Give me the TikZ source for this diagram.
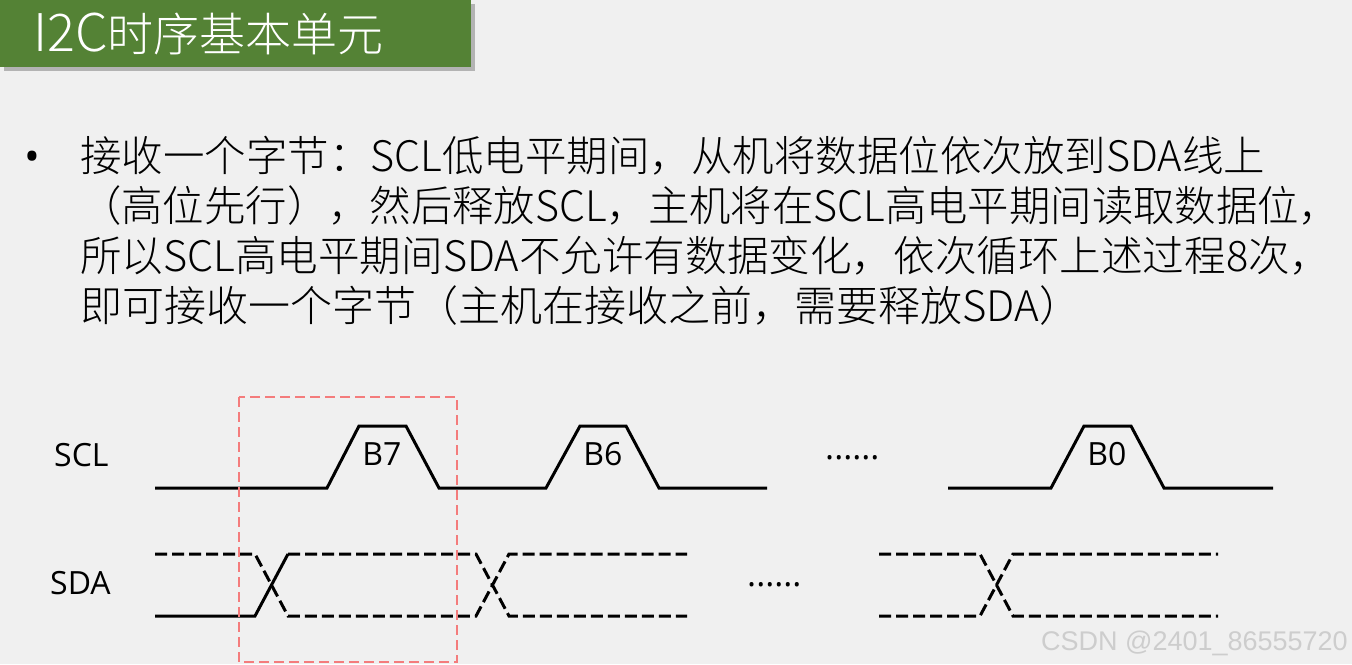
\documentclass[tikz,border=0pt]{standalone}
\usepackage{fontspec}
\setmainfont{Noto Sans CJK SC Light}
\newfontfamily\osans{Open Sans}
\newfontfamily\lsans{Liberation Sans}
\usetikzlibrary{shadows}
\definecolor{bg}{HTML}{F0F0F0}
\definecolor{titlegreen}{HTML}{548235}
\definecolor{boxred}{HTML}{F47C7C}
\definecolor{wmgray}{HTML}{CDCDCD}
\begin{document}
\begin{tikzpicture}[x=1pt,y=-1pt,
  bodytext/.style={anchor=base west,inner sep=0pt,font=\fontsize{42}{50}\selectfont},
  sig/.style={line width=3pt},
  dsig/.style={line width=3pt,dash pattern=on 12pt off 5pt},
  siglabel/.style={anchor=base west,inner sep=0pt,font=\osans\fontsize{32}{36}\selectfont},
  bitlabel/.style={anchor=base,inner sep=0pt,font=\osans\fontsize{32}{36}\selectfont},
  dotlabel/.style={anchor=base west,inner sep=0pt,font=\osans\fontsize{34}{36}\selectfont},
  ]
\fill[bg] (0,0) rectangle (1352,664);
\useasboundingbox (0,0) rectangle (1352,664);
% title
\path[fill=titlegreen, drop shadow={shadow xshift=4pt,shadow yshift=-4pt,fill=black,opacity=0.25}] (0,0) rectangle (471,67);
\node[anchor=base west,inner sep=0pt,text=white] (title) at (33,51)
  {\fontsize{52}{60}\selectfont I2C\fontsize{46}{50}\selectfont 时序基本单元};
% bullet text
\node[anchor=base,inner sep=0pt,font=\osans\fontsize{42}{50}\selectfont] (bullet) at (32,171) {•};
\node[bodytext,xscale=0.988] (l1) at (80,171) {接收一个字节：SCL低电平期间，从机将数据位依次放到SDA线上};
\node[bodytext,xscale=0.985] (l2) at (80,221) {（高位先行），然后释放SCL，主机将在SCL高电平期间读取数据位，};
\node[bodytext,xscale=0.99] (l3) at (80,271) {所以SCL高电平期间SDA不允许有数据变化，依次循环上述过程8次，};
\node[bodytext] (l4) at (80,321) {即可接收一个字节（主机在接收之前，需要释放SDA）};
% labels
\node[siglabel] (scl) at (54,466) {SCL};
\node[siglabel] (sda) at (50,594) {SDA};
\node[bitlabel] (b7) at (382,465) {B7};
\node[bitlabel] (b6) at (603,465) {B6};
\node[bitlabel] (b0) at (1107,465) {B0};
\node[dotlabel] (dscl) at (825,459) {......};
\node[dotlabel] (dsda) at (747,586) {......};
% SCL waveform
\draw[sig] (155,488) -- (327,488) -- (359,426) -- (406,426) -- (439,488) -- (546,488)
  -- (580,426) -- (626,426) -- (659,488) -- (767,488);
\draw[sig] (948,488) -- (1051,488) -- (1084,426) -- (1131,426) -- (1164,488) -- (1273,488);
% SDA waveform
\draw[sig] (155,616) -- (255,616) -- (288,554);
\draw[dsig] (155,554) -- (255,554) -- (288,616) -- (476,616) -- (509,554) -- (687,554);
\draw[dsig] (288,554) -- (476,554) -- (509,616) -- (687,616);
\draw[dsig] (879,554) -- (980,554) -- (1013,616) -- (1218,616);
\draw[dsig] (879,616) -- (980,616) -- (1013,554) -- (1218,554);
% red box
\draw[boxred,line width=2pt,dash pattern=on 10pt off 5pt] (239,397) rectangle (457,662);
% watermark
\node[anchor=base east,inner sep=0pt,text=wmgray,font=\lsans\fontsize{27}{30}\selectfont] (wm) at (1348,650) {CSDN @2401\_86555720};
\end{tikzpicture}
\end{document}
